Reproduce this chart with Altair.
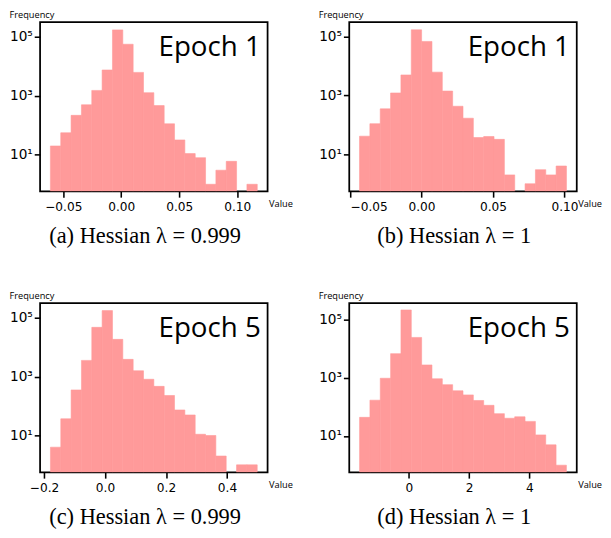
import altair as alt
import numpy as np
import pandas as pd

# ---- data (20-bin histograms, log-scale counts) ----
captions = ["(a) Hessian λ = 0.999", "(b) Hessian λ = 1",
            "(c) Hessian λ = 0.999", "(d) Hessian λ = 1"]
epochs = ["Epoch 1", "Epoch 1", "Epoch 5", "Epoch 5"]

range_a = [-0.0611, 0.1173]
counts_a = [20, 56, 219, 500, 1540, 7600, 175000, 57000, 6300, 1290,
            470, 113, 32, 11, 8, 1, 3, 6, 0, 1]

range_b = [-0.0434, 0.1014]
counts_b = [41, 109, 347, 1200, 4900, 166000, 67000, 6100, 1390, 425,
            167, 37, 40, 32, 2, 0, 1, 3, 2, 4]

range_c = [-0.179, 0.499]
counts_c = [4, 37, 355, 3600, 48000, 178000, 18700, 3900, 1600, 820,
            470, 230, 74, 50, 11, 10, 2, 0, 1, 1]

range_d = [-1.634, 5.226]
counts_d = [44, 171, 970, 6800, 215000, 24500, 2780, 930, 585, 360,
            260, 167, 114, 59, 41, 46, 32, 11, 5, 1]

xticks_a = [-0.05, 0.0, 0.05, 0.10]
xticks_b = [-0.05, 0.0, 0.05, 0.10]
xticks_c = [-0.2, 0.0, 0.2, 0.4]
xticks_d = [0, 2, 4]
yticks = [10, 1000, 100000]

# ---- style / layout ----
W, H = 234, 174
BAR = "#ff9a9a"


def panel(rng, counts, xticks, fmt, xdom, ydom, caption, epoch):
    edges = np.linspace(rng[0], rng[1], len(counts) + 1)
    df = pd.DataFrame({"x0": edges[:-1], "x1": edges[1:], "count": counts})
    df = df[df["count"] > 0]
    ylo = ydom[0]
    bars = alt.Chart(df).mark_bar(color=BAR, opacity=1, clip=True,
                                  stroke=BAR, strokeWidth=0.6).encode(
        x=alt.X("x0:Q",
                scale=alt.Scale(domain=xdom, nice=False, zero=False),
                axis=alt.Axis(values=xticks, format=fmt, grid=False, domain=False,
                              tickSize=6, tickWidth=1.6, tickColor="black",
                              labelFontSize=12.5, labelFont="DejaVu Sans",
                              labelColor="black", labelPadding=4,
                              title="Value", titleFont="Open Sans",
                              titleFontSize=9.5, titleFontWeight="normal",
                              titleColor="black", titleAlign="left",
                              titleAnchor="end", titleX=W + 1, titleY=18,
                              titleBaseline="bottom")),
        x2="x1:Q",
        y=alt.Y("count:Q",
                scale=alt.Scale(type="log", domain=ydom, nice=False),
                axis=alt.Axis(values=yticks, grid=False, domain=False,
                              labelExpr="{10: '10¹', 1000: '10³', 100000: '10⁵'}[datum.value]",
                              tickSize=6, tickWidth=1.6, tickColor="black",
                              labelFontSize=14, labelFont="DejaVu Sans",
                              labelColor="black", labelPadding=2,
                              title="Frequency", titleFont="Open Sans",
                              titleFontSize=9.5, titleFontWeight="normal",
                              titleColor="black", titleAngle=0,
                              titleAlign="left", titleBaseline="alphabetic",
                              titleX=-32, titleY=-5)),
        y2=alt.datum(ylo),
    )
    label = alt.Chart(pd.DataFrame({"t": [epoch]})).mark_text(
        font="Open Sans", fontSize=28.5, align="right", baseline="alphabetic",
        color="black",
    ).encode(text="t:N", x=alt.value(W - 7), y=alt.value(35))
    return alt.layer(bars, label).properties(
        width=W, height=H,
        title=alt.TitleParams(text=caption, orient="bottom", anchor="middle",
                              frame="group", dx=-9, offset=13,
                              font="Liberation Serif", fontSize=23,
                              fontWeight="normal", color="black"),
    )


pa = panel(range_a, counts_a, xticks_a, ".2f", [-0.0700, 0.1262],
           [10 ** -0.24, 10 ** 5.505], captions[0], epochs[0])
pb = panel(range_b, counts_b, xticks_b, ".2f", [-0.0506, 0.1086],
           [10 ** -0.257, 10 ** 5.48], captions[1], epochs[1])
pc = panel(range_c, counts_c, xticks_c, ".1f", [-0.213, 0.533],
           [10 ** -0.253, 10 ** 5.505], captions[2], epochs[2])
pd_ = panel(range_d, counts_d, xticks_d, "d", [-1.977, 5.569],
            [10 ** -0.244, 10 ** 5.567], captions[3], epochs[3])

row1 = alt.hconcat(pa, pb, spacing=24)
row2 = alt.hconcat(pc, pd_, spacing=24)
chart = alt.vconcat(row1, row2, spacing=41).properties(
    background="white",
    padding={"left": 0, "top": -7, "right": 0, "bottom": 0},
).configure_view(stroke="black", strokeWidth=1.8)

chart.save("out.html", embed_options={"renderer": "svg", "actions": False})
